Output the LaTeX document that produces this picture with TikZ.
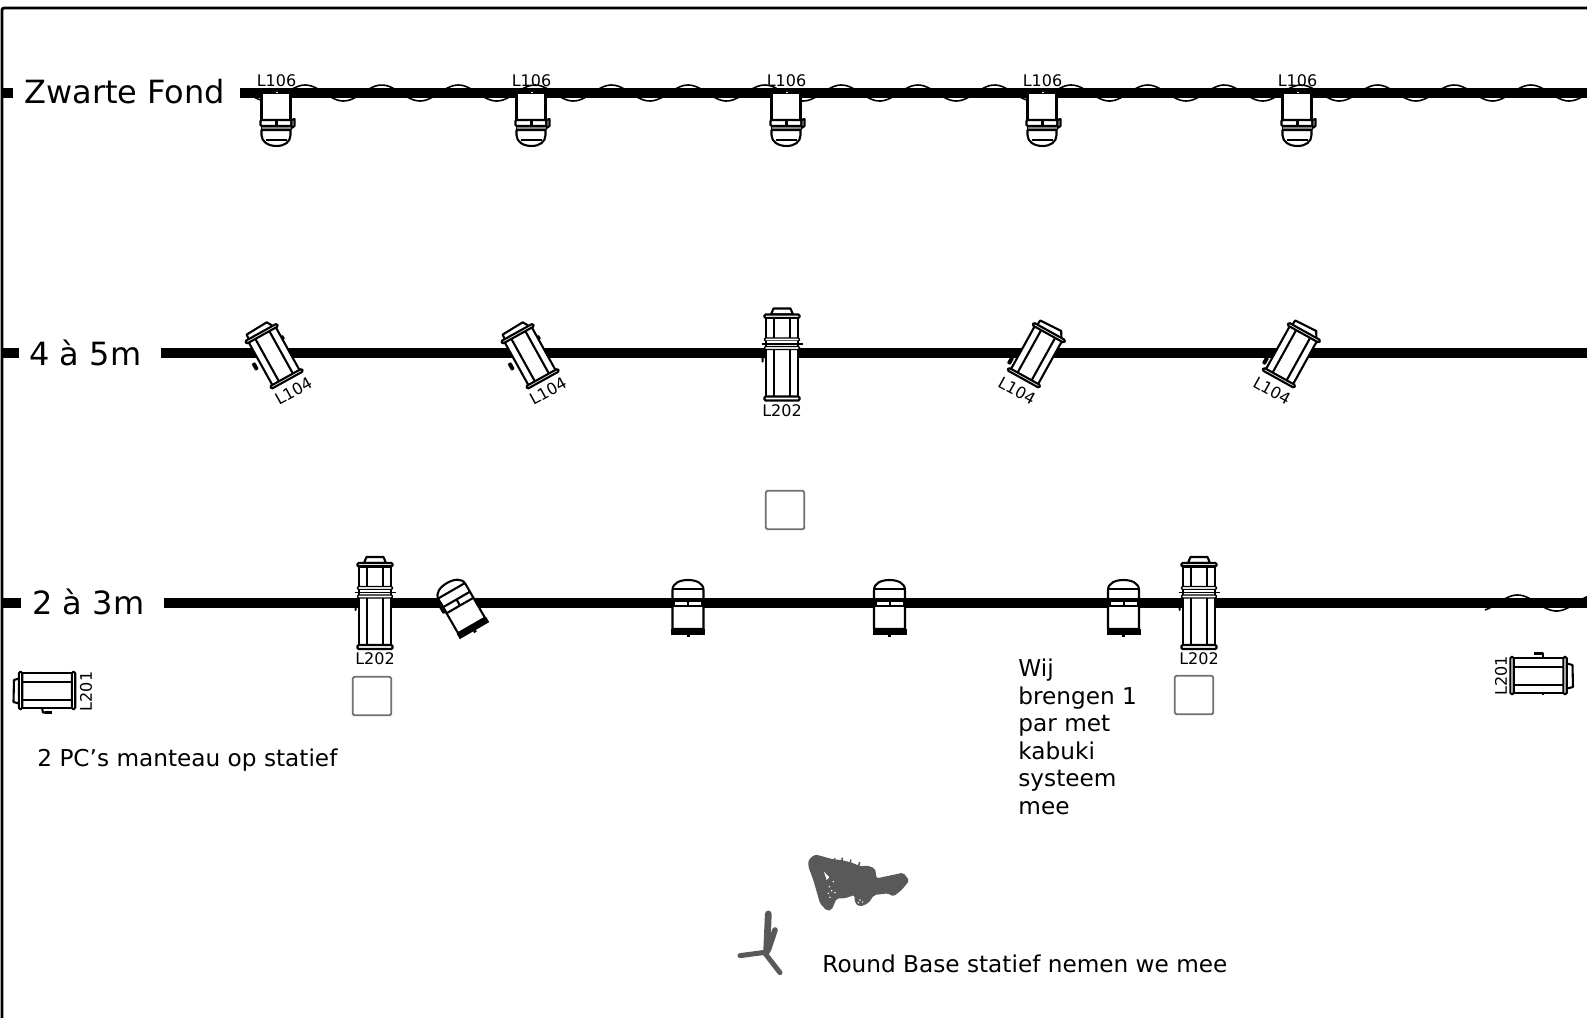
\documentclass[tikz,border=0pt]{standalone}
\usepackage{fontspec}
\setmainfont{DejaVu Sans}
\definecolor{blobgray}{HTML}{595959}
\definecolor{boxgray}{HTML}{707070}
\tikzset{
  lampline/.style={line width=1.05pt,draw=black,line join=round},
  thinline/.style={line width=0.7pt,draw=black,line join=round},
  plate/.style={line width=1.05pt,draw=black,fill=white,rounded corners=0.6pt},
  barline/.style={line width=5pt,draw=black},
  waveline/.style={line width=0.8pt,draw=black},
  labeltext/.style={font=\fontsize{8}{9.6}\selectfont,inner sep=0pt,text=black},
  bigtext/.style={font=\fontsize{16}{19}\selectfont,inner sep=0pt,anchor=west},
  midtext/.style={font=\fontsize{11.6}{13.8}\selectfont,inner sep=0pt,anchor=west,align=left},
  standbox/.style={line width=0.95pt,draw=boxgray,fill=white,rounded corners=0.8pt},
  hanglamp/.pic={
    \draw[lampline,fill=white] (-15,0) rectangle (14,27);
    \draw[plate] (-16,27) rectangle (15,33);
    \draw[lampline] (0,27) -- (0,33);
    \draw[lampline,fill=white] (15,27) -- (18,26) -- (18,33) -- (15,35) -- cycle;
    \draw[lampline,fill=white] (-15,37) -- (-15,42) .. controls (-15,49) and (-8,53) .. (0,53) .. controls (8,53) and (14,49) .. (14,42) -- (14,37) -- cycle;
    \fill[black] (-16,33) rectangle (15,37);
    \fill[gray] (-15,34.4) rectangle (14,35.6);
    \draw[lampline] (-11,47) -- (10,47);
    \fill[white] (-1,-1.5) rectangle (1,-0.3);
  },
  lantern/.pic={
    \draw[lampline,fill=white] (-14,-26) -- (-13.5,-32) -- (10,-33) -- (14,-26) -- cycle;
    \draw[lampline,fill=white] (-15.5,-25) rectangle (15.5,25);
    \draw[lampline] (-8,-25) -- (-8,25) (8,-25) -- (8,25);
    \draw[plate] (-18,-27) rectangle (18,-24);
    \draw[plate] (-18,24.5) rectangle (18,27.5);
  },
  kabukilamp/.pic={
    \draw[lampline,fill=white] (-11,-39) -- (-8.5,-45) -- (8.5,-45) -- (11,-39) -- cycle;
    \draw[plate] (-17.5,-39) rectangle (17.5,-35.5);
    \draw[lampline,fill=white] (-16,-35.5) rectangle (16,-14);
    \draw[lampline] (-8,-35.5) -- (-8,-14) (8,-35.5) -- (8,-14);
    \draw[thinline,fill=white,rounded corners=0.6pt] (-17.5,-15.5) rectangle (17.5,-12.5);
    \fill[white] (-16,-12.5) rectangle (16,-5);
    \draw[thinline] (-20.5,-9.5) -- (21,-9.5);
    \draw[thinline] (-16,-12.5) -- (-16,-5) (16,-12.5) -- (16,-5);
    \draw[lampline,fill=white] (-16,-5) rectangle (16,44);
    \draw[lampline] (-8,-5) -- (-8,44) (8,-5) -- (8,44);
    \draw[thinline,fill=white,rounded corners=0.6pt] (-17.5,-7) rectangle (17.5,-4);
    \draw[plate] (-17.5,43) rectangle (17.5,47);
    \fill[black,rounded corners=0.5pt] (-21,0) rectangle (-17,5);
    \fill[black,rounded corners=0.5pt] (-20.5,4) rectangle (-18.5,9);
  },
  parlamp/.pic={
    \draw[lampline,fill=white] (-15.5,25) -- (-15.5,10) .. controls (-15.5,3) and (-8,0) .. (0,0) .. controls (8,0) and (15.5,3) .. (15.5,10) -- (15.5,25) -- (15.5,49) -- (-15.5,49) -- cycle;
    \draw[lampline] (-15.5,9) -- (15.5,9);
    \draw[lampline] (-15.5,26) -- (15.5,26);
  },
  parfoot/.pic={
    \fill[black] (-17,49) rectangle (17,55);
    \fill[black] (-1.5,55) rectangle (1.5,57);
    \fill[black] (-16,18) rectangle (16,27);
    \fill[white] (-13,21.5) rectangle (-1,25);
    \fill[white] (1,21.5) rectangle (13,25);
  },
  parfoottilt/.pic={
    \fill[black] (-17,49) rectangle (17,55);
    \fill[black] (-1.5,55) rectangle (1.5,57);
    \draw[lampline] (-15.5,19) -- (15.5,19);
    \draw[lampline] (0,19) -- (0,26);
    \draw[lampline,fill=white] (-18,14) rectangle (-15.5,24);
  },
  sidelampL/.pic={
    \draw[lampline,fill=white] (0,0) rectangle (53,35);
    \draw[lampline] (0,9) -- (53,9) (0,27) -- (53,27);
    \draw[lampline,fill=white] (0,5) -- (-6.5,7) -- (-7,29) -- (0,31);
    \draw[plate] (-1.7,-1) rectangle (1.7,36);
    \draw[plate] (51.3,-1) rectangle (54.7,36);
    \fill[black] (21,-1.5) rectangle (22.5,0);
    \draw[lampline] (21.5,35) -- (22.5,39.5) -- (31,39.5);
    \fill[black] (24,38) rectangle (31,40.5);
  },
  sidelampR/.pic={
    \draw[lampline,fill=white] (0,0) rectangle (53,35);
    \draw[lampline] (0,9) -- (53,9) (0,27) -- (53,27);
    \draw[lampline,fill=white] (53,5) -- (60.5,7) -- (61,29) -- (53,31);
    \draw[plate] (-1.7,-1) rectangle (1.7,36);
    \draw[plate] (51.3,-1) rectangle (54.7,36);
    \fill[black] (30,35) rectangle (32,37);
    \draw[lampline] (31,0) -- (31,-4.5) -- (22,-4.5);
    \fill[black] (22,-5.5) rectangle (28,-3.5);
  }
}
\begin{document}
\begin{tikzpicture}[x=0.5pt,y=-0.5pt]
\useasboundingbox (0,0) rectangle (1587,1018);
% frame
\coordinate (frameA) at (2,1018);
\coordinate (frameB) at (2,8);
\coordinate (frameC) at (1587,8);
\draw[line width=1.4pt,rounded corners=1pt] (frameA) -- (frameB) -- (frameC);
% waves behind bars
\draw[waveline] plot[domain=252:1587,samples=500,smooth] (\x,{93-8*sin((\x-286)/76.6*360)});
\draw[waveline] plot[domain=1485:1587,samples=60,smooth] (\x,{603-8*sin((\x-1498)/78*360)});
% bars
\coordinate (barA1) at (240,93); \coordinate (barA2) at (1587,93);
\coordinate (barB1) at (161,353); \coordinate (barB2) at (1587,353);
\coordinate (barC1) at (164,603); \coordinate (barC2) at (1587,603);
\draw[barline] (barA1) -- (barA2);
\draw[barline] (barB1) -- (barB2);
\draw[barline] (barC1) -- (barC2);
\coordinate (tickA1) at (3,93); \coordinate (tickA2) at (13,93);
\coordinate (tickB1) at (3,353); \coordinate (tickB2) at (19,353);
\coordinate (tickC1) at (3,603); \coordinate (tickC2) at (21,603);
\draw[barline] (tickA1) -- (tickA2);
\draw[barline] (tickB1) -- (tickB2);
\draw[barline] (tickC1) -- (tickC2);
% row labels
\node[bigtext] (rowA) at (24,92) {Zwarte Fond};
\node[bigtext] (rowB) at (29,353) {4 à 5m};
\node[bigtext] (rowC) at (32,602) {2 à 3m};
% row A lamps
\foreach \n/\px in {a/276.5,b/531.5,c/786.5,d/1042.5,e/1297.5}{
  \pic at (\px,93) {hanglamp};
  \node[labeltext] (labA\n) at (\px,80.5) {L106};
}
% row B lanterns
\fill[black,rotate around={29:(274,356)}] (289.5,342) rectangle (292,346);
\pic[rotate=29] at (274,356) {lantern};
\fill[black,rotate around={29:(274,356)},rounded corners=0.5pt] (250.5,352) rectangle (254.5,360);
\fill[black,rotate around={29:(530,356)}] (545.5,342) rectangle (548,346);
\pic[rotate=29] at (530,356) {lantern};
\fill[black,rotate around={29:(530,356)},rounded corners=0.5pt] (506.5,352) rectangle (510.5,360);
\pic[rotate=-29] at (1036.5,355) {lantern};
\fill[black,rotate around={-29:(1036.5,355)},rounded corners=0.5pt] (1014.5,368.5) rectangle (1018.5,376.5);
\pic[rotate=-29] at (1291.5,355) {lantern};
\fill[black,rotate around={-29:(1291.5,355)},rounded corners=0.5pt] (1269.5,368.5) rectangle (1273.5,376.5);
\node[labeltext,rotate=29] (labB1) at (293.5,391) {L104};
\node[labeltext,rotate=29] (labB2) at (548,391) {L104};
\node[labeltext,rotate=-29] (labB3) at (1017,391) {L104};
\node[labeltext,rotate=-29] (labB4) at (1272,391) {L104};
\pic at (782,353.5) {kabukilamp};
\node[labeltext] (labB5) at (782,411) {L202};
\node[standbox,minimum width=19.25pt,minimum height=19.25pt,inner sep=0pt] (boxA) at (785,510) {};
% row C
\pic at (375,602) {kabukilamp};
\node[labeltext] (labC1) at (375,659) {L202};
\node[standbox,minimum width=19.25pt,minimum height=19.25pt,inner sep=0pt] (boxB) at (372,696) {};
\pic at (1199,602) {kabukilamp};
\node[labeltext] (labC2) at (1199,659) {L202};
\node[standbox,minimum width=19.25pt,minimum height=19.25pt,inner sep=0pt] (boxC) at (1194,695) {};
\foreach \px in {688,889.5,1123.5}{
  \pic at (\px,580) {parlamp};
  \pic at (\px,580) {parfoot};
}
\pic[rotate=30] at (447,583) {parlamp};
\pic[rotate=30] at (447,583) {parfoottilt};
% side lamps
\pic at (20.5,673) {sidelampL};
\node[labeltext,rotate=90] (labL) at (86,691.5) {L201};
\pic at (1512,658) {sidelampR};
\node[labeltext,rotate=90] (labR) at (1501,676) {L201};
% texts
\node[midtext] (pcText) at (37,760) {2 PC’s manteau op statief};
\node[midtext,anchor=north west] (wijText) at (1018,658.5) {Wij\\brengen 1\\par met\\kabuki\\systeem\\mee};
\node[midtext] (roundText) at (822,963.5) {Round Base statief nemen we mee};
% grey blob
\begin{scope}[shift={(720,840)},scale=0.3333]
\fill[blobgray,rounded corners=1pt] (265,60) -- (285,43) -- (340,58) -- (365,60) -- (395,68) -- (425,80) -- (440,76) -- (465,85) -- (470,115) -- (550,98) -- (568,122) -- (545,150) -- (520,170) -- (505,160) -- (462,165) -- (445,190) -- (420,200) -- (405,190) -- (403,165) -- (375,175) -- (350,175) -- (335,210) -- (320,212) -- (300,190) -- (280,120) -- (265,80) -- cycle;
\draw[blobgray,line width=0.8pt] (342,65) -- (345,55) (366,65) -- (367,53) (392,70) -- (392,58) (416,78) -- (419,66);
\fill[white] (312,95) -- (328,112) -- (320,120) -- cycle;
\foreach \a/\b in {340/125,328/140,335/152,325/160,345/158,330/172,420/180,428/186,415/188}{
  \fill[white] (\a,\b) circle[radius=2.5];
}
\draw[blobgray,line width=3.4pt,line cap=round] (145,222) -- (140,335);
\draw[blobgray,line width=2.8pt,line cap=round] (165,270) -- (145,330);
\draw[blobgray,line width=2.5pt,line cap=round] (135,337) -- (60,347);
\draw[blobgray,line width=2.5pt,line cap=round] (135,340) -- (180,398);
\end{scope}
\end{tikzpicture}
\end{document}
